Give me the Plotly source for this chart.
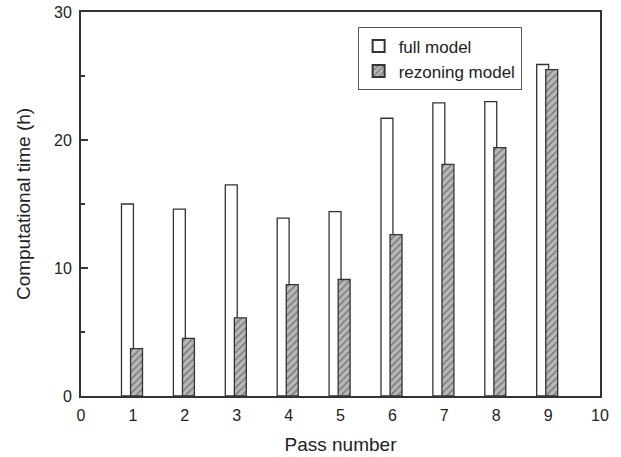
import plotly.graph_objects as go

passes = [1, 2, 3, 4, 5, 6, 7, 8, 9]
full_model = [15.0, 14.6, 16.5, 13.9, 14.4, 21.7, 22.9, 23.0, 25.9]
rezoning_model = [3.7, 4.5, 6.1, 8.7, 9.1, 12.6, 18.1, 19.4, 25.5]
x_ticks = [0, 1, 2, 3, 4, 5, 6, 7, 8, 9, 10]
y_ticks = [0, 10, 20, 30]

FONT = "Liberation Sans, Arial, sans-serif"
INK = "#333333"

fig = go.Figure()
fig.add_trace(go.Bar(
    x=passes, y=full_model, name="full model",
    width=0.23, offset=-0.22,
    marker=dict(color="white", line=dict(color=INK, width=1.3)),
))
fig.add_trace(go.Bar(
    x=passes, y=rezoning_model, name="rezoning model",
    width=0.23, offset=-0.045,
    marker=dict(color="#b8b8b8", line=dict(color=INK, width=1.3),
                pattern=dict(shape="/", bgcolor="#b8b8b8", fgcolor="#3c3c3c",
                             size=5, solidity=0.3)),
))

fig.update_layout(
    width=621, height=457,
    margin=dict(l=81, r=21, t=12, b=61, pad=0, autoexpand=False),
    barmode="overlay",
    plot_bgcolor="white", paper_bgcolor="white",
    font=dict(family=FONT, size=16, color="#222222"),
    showlegend=True,
    legend=dict(x=0.533, y=0.96, xanchor="left", yanchor="top",
                bgcolor="white", bordercolor="#555555", borderwidth=1,
                font=dict(size=17), tracegroupgap=0, itemsizing="constant"),
    xaxis=dict(range=[0, 10], tickvals=x_ticks, ticks="inside", ticklen=5,
               tickcolor=INK, showline=True, linecolor=INK, linewidth=2,
               mirror=True, showgrid=False, zeroline=False, automargin=False,
               layer="below traces", ticklabelstandoff=4,
               title=dict(text="Pass number", font=dict(size=19), standoff=14),
               tickfont=dict(size=16)),
    yaxis=dict(range=[0, 30], tickvals=y_ticks, ticks="inside", ticklen=7,
               tickwidth=2, tickcolor=INK, showline=True, linecolor=INK,
               linewidth=2, mirror=True, showgrid=False, zeroline=False,
               automargin=False,
               minor=dict(ticks="inside", ticklen=4, tickcolor=INK, dtick=5,
                          showgrid=False, tickwidth=1.5),
               ticklabelstandoff=4,
               title=dict(text="Computational time (h)", font=dict(size=19),
                          standoff=18),
               tickfont=dict(size=16)),
)

fig.write_html("out.html")
